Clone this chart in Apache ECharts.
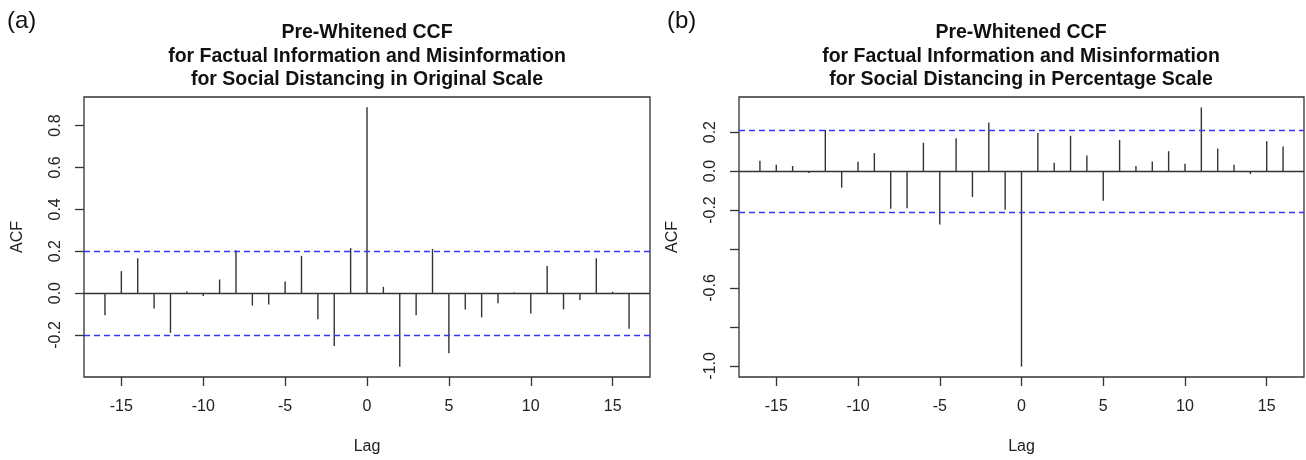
<!DOCTYPE html>
<html>
<head>
<meta charset="utf-8">
<script src="https://cdn.jsdelivr.net/npm/echarts@6/dist/echarts.min.js"></script>
<style>
    html, body { margin: 0; padding: 0; background: #fff; }
    #ct1 { width: 1306px; height: 460px; }
</style>
</head>
<body>
<div id="ct1"></div>
<script>
var lags = [-16, -15, -14, -13, -12, -11, -10, -9, -8, -7, -6, -5, -4, -3, -2, -1, 0,
    1, 2, 3, 4, 5, 6, 7, 8, 9, 10, 11, 12, 13, 14, 15, 16];
// (a) original scale
var ccfOriginal = [-0.106, 0.105, 0.167, -0.073, -0.190, 0.008, -0.014, 0.065, 0.205, -0.059, -0.054,
    0.056, 0.178, -0.125, -0.253, 0.215, 0.887, 0.030, -0.351, -0.106, 0.211, -0.287, -0.078,
    -0.116, -0.048, 0.003, -0.097, 0.129, -0.078, -0.033, 0.167, 0.006, -0.170];
// (b) percentage scale
var ccfPercent = [0.053, 0.032, 0.026, -0.010, 0.211, -0.085, 0.048, 0.092, -0.194, -0.191, 0.145,
    -0.274, 0.169, -0.133, 0.249, -0.199, -1.004, 0.196, 0.043, 0.181, 0.080, -0.153, 0.160,
    0.026, 0.049, 0.102, 0.037, 0.327, 0.116, 0.032, -0.015, 0.153, 0.126];
var ciOriginal = 0.203;
var ciPercent = 0.209;
var xTicks = [-15, -10, -5, 0, 5, 10, 15];
var yTicksA = [-0.2, 0, 0.2, 0.4, 0.6, 0.8];
var yTicksB = [-1.0, -0.8, -0.6, -0.4, -0.2, 0, 0.2];
var yLabelsB = [-1.0, -0.6, -0.2, 0, 0.2];

var titleA = 'Pre-Whitened CCF\nfor Factual Information and Misinformation\nfor Social Distancing in Original Scale';
var titleB = 'Pre-Whitened CCF\nfor Factual Information and Misinformation\nfor Social Distancing in Percentage Scale';

var FONT = 'Liberation Sans, Arial, sans-serif';
var INK = '#333';

function pairs(vals) {
    var out = [];
    for (var i = 0; i < lags.length; i++) {
        out.push([lags[i], vals[i]]);
    }
    return out;
}

// R style ylim: range of data and limits, +4%
function yRange(vals, ci) {
    var lo = Math.min(Math.min.apply(null, vals), -ci);
    var hi = Math.max(Math.max.apply(null, vals), ci);
    var d = (hi - lo) * 0.04;
    return [lo - d, hi + d];
}

function renderSpike(params, api) {
    var p0 = api.coord([api.value(0), 0]);
    var p1 = api.coord([api.value(0), api.value(1)]);
    return {
        type: 'line',
        shape: {x1: p0[0], y1: p0[1], x2: p1[0], y2: p1[1]},
        style: {stroke: INK, lineWidth: 1.4}
    };
}

function xAxisOf(idx) {
    var span = (lags[lags.length - 1] - lags[0]) * 0.04;
    return {
        type: 'value', gridIndex: idx, position: 'bottom',
        min: lags[0] - span, max: lags[lags.length - 1] + span,
        splitLine: {show: false},
        axisLine: {show: false, onZero: false},
        axisTick: {show: true, length: 9, customValues: xTicks, lineStyle: {color: INK, width: 1.3}},
        axisLabel: {customValues: xTicks, margin: 22, fontSize: 16, color: '#222', fontFamily: FONT},
        name: 'Lag', nameLocation: 'middle', nameGap: 62,
        nameTextStyle: {fontSize: 16, color: '#222', fontFamily: FONT}
    };
}

function yAxisOf(idx, rng, ticks, labels) {
    return {
        type: 'value', gridIndex: idx, position: 'left',
        min: rng[0], max: rng[1],
        splitLine: {show: false},
        axisLine: {show: false, onZero: false},
        axisTick: {show: true, length: 9, customValues: ticks, lineStyle: {color: INK, width: 1.3}},
        axisLabel: {
            customValues: labels, rotate: 90, margin: 20, fontSize: 16, color: '#222', fontFamily: FONT,
            formatter: function (v) { return (Math.abs(v) < 1e-9 ? 0 : v).toFixed(1); }
        },
        name: 'ACF', nameLocation: 'middle', nameGap: 58, nameRotate: 90,
        nameTextStyle: {fontSize: 16, color: '#222', fontFamily: FONT}
    };
}

function refLines(idx, ci) {
    return {
        type: 'line', xAxisIndex: idx, yAxisIndex: idx, data: [], silent: true,
        markLine: {
            symbol: 'none', silent: true, label: {show: false},
            data: [
                {yAxis: 0, lineStyle: {color: INK, width: 1.3, type: 'solid'}},
                {yAxis: ci, lineStyle: {color: '#3535ff', width: 1.3, type: [6, 4]}},
                {yAxis: -ci, lineStyle: {color: '#3535ff', width: 1.3, type: [6, 4]}}
            ]
        }
    };
}

var option1 = {
    animation: false,
    backgroundColor: '#fff',
    title: [
        {text: '(a)', left: 7, top: 9, padding: 0, textStyle: {fontSize: 24, fontWeight: 'normal', color: '#111', fontFamily: FONT}},
        {text: '(b)', left: 667, top: 9, padding: 0, textStyle: {fontSize: 24, fontWeight: 'normal', color: '#111', fontFamily: FONT}},
        {text: titleA, left: 367, top: 21, padding: 0, textAlign: 'center',
            textStyle: {fontSize: 19.5, fontWeight: 'bold', lineHeight: 23.5, color: '#111', fontFamily: FONT}},
        {text: titleB, left: 1021, top: 21, padding: 0, textAlign: 'center',
            textStyle: {fontSize: 19.5, fontWeight: 'bold', lineHeight: 23.5, color: '#111', fontFamily: FONT}}
    ],
    grid: [
        {left: 84, top: 97, width: 566, height: 280, show: true, borderColor: INK, borderWidth: 1.3},
        {left: 739, top: 97, width: 565, height: 280, show: true, borderColor: INK, borderWidth: 1.3}
    ],
    xAxis: [xAxisOf(0), xAxisOf(1)],
    yAxis: [
        yAxisOf(0, yRange(ccfOriginal, ciOriginal), yTicksA, yTicksA),
        yAxisOf(1, yRange(ccfPercent, ciPercent), yTicksB, yLabelsB)
    ],
    series: [
        refLines(0, ciOriginal),
        refLines(1, ciPercent),
        {type: 'custom', xAxisIndex: 0, yAxisIndex: 0, renderItem: renderSpike, data: pairs(ccfOriginal), encode: {x: 0, y: 1}},
        {type: 'custom', xAxisIndex: 1, yAxisIndex: 1, renderItem: renderSpike, data: pairs(ccfPercent), encode: {x: 0, y: 1}}
    ]
};

var myChart1;
function initMyChar1() {
    if (myChart1 && myChart1.dispose) {
        myChart1.dispose();
    }
    myChart1 = echarts.init(document.getElementById('ct1'));
    myChart1.setOption(option1, true);
}
initMyChar1();
</script>
</body>
</html>
